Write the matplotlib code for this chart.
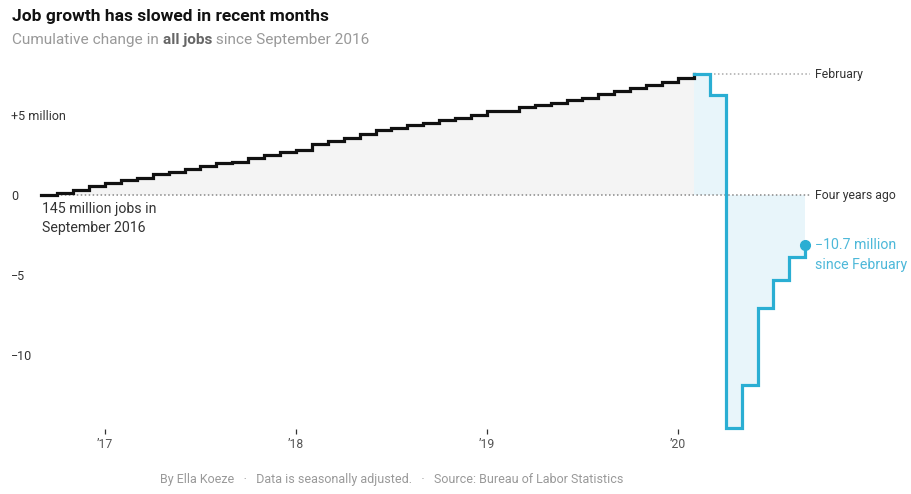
import matplotlib
matplotlib.use("Agg")
import matplotlib.pyplot as plt
import matplotlib.transforms as mtrans
import numpy as np
import pandas as pd

# ---------------- data ----------------
black_months = pd.period_range("2016-09", "2020-02", freq="M")
black_values = [0.00, 0.15, 0.31, 0.56,
                0.77, 0.94, 1.04, 1.29, 1.42, 1.63, 1.83, 2.02, 2.04, 2.31, 2.50, 2.67,
                2.81, 3.19, 3.38, 3.54, 3.79, 4.04, 4.17, 4.38, 4.48, 4.69, 4.81, 4.97,
                5.25, 5.27, 5.47, 5.63, 5.73, 5.94, 6.08, 6.29, 6.50, 6.67, 6.88, 7.08,
                7.29, 7.56]
blue_months = pd.period_range("2020-02", "2020-09", freq="M")
blue_values = [7.56, 6.25, -14.56, -11.85, -7.07, -5.31, -3.85, -3.15]

x_ticks = [2017, 2018, 2019, 2020]
x_ticklabels = ["\u201917", "\u201918", "\u201919", "\u201920"]
y_ticks = [5, 0, -5, -10]
y_ticklabels = ["+5 million", "0", "\u22125", "\u221210"]

def to_dec(periods):
    return np.array([p.year + (p.month - 1) / 12 for p in periods])

bx = to_dec(black_months)
by = np.array(black_values)
ux = to_dec(blue_months)
uy = np.array(blue_values)

# ---------------- style ----------------
FONT = ["Roboto", "DejaVu Sans"]
plt.rcParams["font.family"] = FONT
BLUE = "#2aaed3"
BLUE_TXT = "#4db8d9"
BLUE_FILL = "#e8f5fa"
GRAY_FILL = "#f4f4f4"

W, H = 912, 494
fig = plt.figure(figsize=(W / 100, H / 100), dpi=100)
ax_bottom_px = 429
ax = fig.add_axes([0, (H - ax_bottom_px) / H, 1, ax_bottom_px / H])

px_per_year = 191.0
x17 = 105.0
ax.set_xlim(2017 - x17 / px_per_year, 2017 + (W - x17) / px_per_year)
zero_px, px_per_m = 195, 16.0
ax.set_ylim(-(ax_bottom_px - zero_px) / px_per_m, zero_px / px_per_m)

for s in ax.spines.values():
    s.set_visible(False)
ax.set_facecolor("none")

# fills
ax.fill_between(bx, by, 0, step="post", color=GRAY_FILL, lw=0, zorder=1)
ax.fill_between(ux, uy, 0, step="post", color=BLUE_FILL, lw=0, zorder=1)

# reference lines
pad = 0.025
ax.hlines(0, bx[0], ux[-1] + pad, colors="#888888", linestyles=(0, (1, 1.6)),
          lw=1.1, zorder=2)
ax.hlines(uy[0], ux[1] + 0.02, ux[-1] + pad, colors="#aaaaaa",
          linestyles=(0, (1, 1.6)), lw=1.1, zorder=2)

# lines
ax.plot(bx, by, drawstyle="steps-post", color="#111111", lw=2.3,
        solid_joinstyle="miter", clip_on=False, zorder=4)
ax.plot(ux, uy, drawstyle="steps-post", color=BLUE, lw=2.3,
        solid_joinstyle="miter", clip_on=False, zorder=4)
ax.plot(ux[-1], uy[-1], "o", color=BLUE, ms=7, clip_on=False, zorder=5)

# ticks
ax.set_xticks(x_ticks)
ax.set_xticklabels(x_ticklabels, fontsize=8.8, color="#555555")
ax.tick_params(axis="x", direction="out", length=3.6, width=0.9,
               color="#333333", pad=3.2)
ax.set_yticks(y_ticks)
ax.set_yticklabels(y_ticklabels, fontsize=9.0, color="#333333")
ax.tick_params(axis="y", length=0, pad=-8)
for lab in ax.get_yticklabels():
    lab.set_horizontalalignment("left")

# annotations
lab_x = ux[-1] + 0.053
ax.text(lab_x, uy[0], "February", fontsize=8.8, color="#333333",
        va="center", ha="left")
ax.text(lab_x, 0, "Four years ago", fontsize=8.8, color="#333333",
        va="center", ha="left")
ax.text(lab_x, uy[-1], "\u221210.7 million\nsince February", fontsize=10.2,
        color=BLUE_TXT, va="top", ha="left", linespacing=1.5,
        transform=ax.transData + mtrans.ScaledTranslation(0, 7 / 100, fig.dpi_scale_trans))
ax.text(bx[0] + 0.005, -0.45, "145 million jobs in\nSeptember 2016", fontsize=10.2,
        color="#333333", va="top", ha="left", linespacing=1.45)

# titles
fig.text(12 / W, 1 - 17 / H, "Job growth has slowed in recent months",
         fontsize=12.5, fontweight="bold", color="#121212", va="center", ha="left")
sub_y = 1 - 40 / H
t1 = fig.text(12 / W, sub_y, "Cumulative change in ", fontsize=11.1,
              color="#999999", va="center", ha="left")
fig.canvas.draw()
r = fig.canvas.get_renderer()
bb = t1.get_window_extent(r)
t2 = fig.text(bb.x1 / W, sub_y, "all jobs", fontsize=11.1, fontweight="bold",
              color="#666666", va="center", ha="left")
bb2 = t2.get_window_extent(r)
fig.text(bb2.x1 / W, sub_y, " since September 2016", fontsize=11.1,
         color="#999999", va="center", ha="left")

fig.text(391.5 / W, 1 - 479 / H,
         "By Ella Koeze   \u00b7   Data is seasonally adjusted.   \u00b7   Source: Bureau of Labor Statistics",
         fontsize=9.0, color="#999999", va="center", ha="center")

fig.savefig("out.png", dpi=100, facecolor="white")
